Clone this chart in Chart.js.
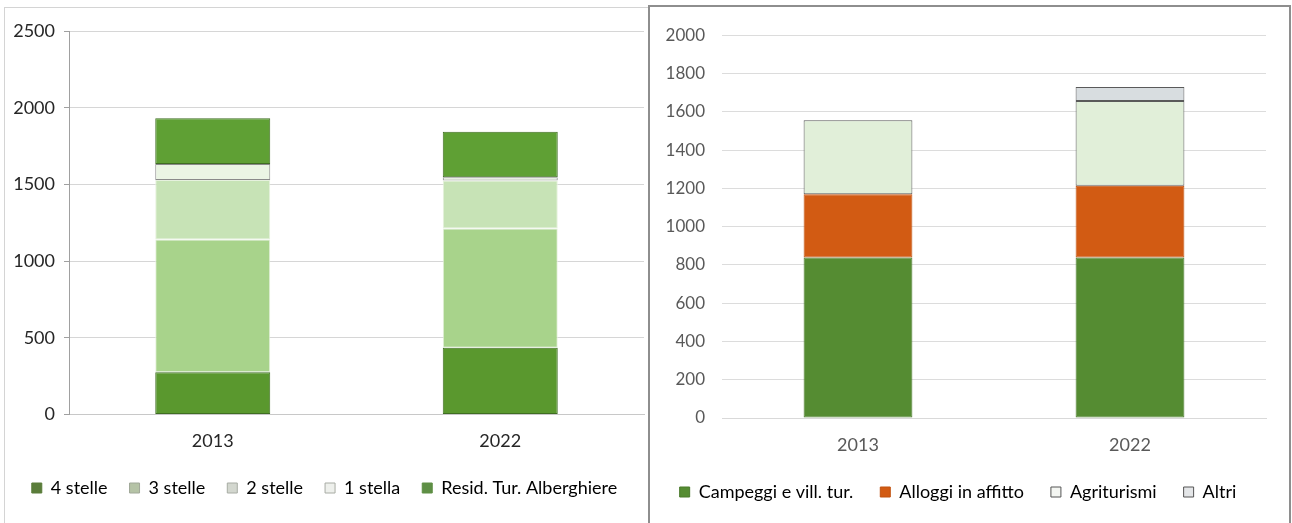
<!DOCTYPE html>
<html>
<head>
<meta charset="utf-8">
<script src="https://cdn.jsdelivr.net/npm/chart.js@4.4.1/dist/chart.umd.min.js"></script>
<style>
  html, body { margin: 0; padding: 0; background: #ffffff; width: 1292px; height: 523px; overflow: hidden; }
  .panel { position: absolute; box-sizing: border-box; background: #fff; }
  #pL { left: 4px; top: 7px; width: 646px; height: 520px; border: 1px solid #d4d4d4; border-right: none; }
  #pR { left: 648px; top: 5px; width: 643px; height: 522px; border: 2px solid #8e8e8e; }
  canvas { position: absolute; }
  #cL { left: 5px; top: 9px; }
  #cR { left: 650px; top: 8px; }
</style>
</head>
<body>
<div class="panel" id="pL"></div>
<div class="panel" id="pR"></div>
<canvas id="cL" width="642" height="513" style="width:642px;height:513px"></canvas>
<canvas id="cR" width="638" height="514" style="width:638px;height:514px"></canvas>
<script>
// ---- Left chart data ----
const yearsL = ['2013', '2022'];
const quattroStelle = [276, 435];
const treStelle = [864, 777];
const dueStelle = [388, 313];
const unaStella = [105, 21];
const residTurAlb = [298, 298];
const labelsL = ['4 stelle', '3 stelle', '2 stelle', '1 stella', 'Resid. Tur. Alberghiere'];
const ticksL = [0, 500, 1000, 1500, 2000, 2500];

// ---- Right chart data ----
const yearsR = ['2013', '2022'];
const campeggi = [838, 838];
const alloggi = [331, 376];
const agriturismi = [386, 442];
const altri = [0, 73];
const labelsR = ['Campeggi e vill. tur.', 'Alloggi in affitto', 'Agriturismi', 'Altri'];
const ticksR = [0, 200, 400, 600, 800, 1000, 1200, 1400, 1600, 1800, 2000];

const FONT = 'Lato, "Liberation Sans", sans-serif';

function legendGen(colors, borders) {
  return function(chart) {
    return chart.data.datasets.map((ds, i) => ({
      text: ds.label,
      fillStyle: colors[i],
      strokeStyle: borders[i],
      lineWidth: 1,
      hidden: false,
      datasetIndex: i
    }));
  };
}

new Chart(document.getElementById('cL'), {
  type: 'bar',
  data: {
    labels: yearsL,
    datasets: [
      { label: labelsL[0], data: quattroStelle, backgroundColor: '#5a982e', borderColor: '#3f6e22', borderWidth: 1 },
      { label: labelsL[1], data: treStelle, backgroundColor: '#a8d38b', borderColor: '#e6f1de', borderWidth: 1 },
      { label: labelsL[2], data: dueStelle, backgroundColor: '#c7e3b6', borderColor: '#e6f1de', borderWidth: 1 },
      { label: labelsL[3], data: unaStella, backgroundColor: '#ebf5e4', borderColor: '#8a8a8a', borderWidth: 1 },
      { label: labelsL[4], data: residTurAlb, backgroundColor: '#5fa034', borderColor: '#3f6e22', borderWidth: 1 }
    ]
  },
  options: {
    responsive: false,
    animation: false,
    layout: { padding: { left: 0, right: 3, top: 22, bottom: 15 } },
    datasets: { bar: { categoryPercentage: 1, barPercentage: 0.4, borderSkipped: false } },
    scales: {
      x: {
        stacked: true,
        grid: { display: false, drawTicks: false },
        border: { display: true, color: '#c8c8c8' },
        ticks: { color: '#262626', font: { family: FONT, size: 18 }, padding: 16 },
        afterFit: s => { s.height = 42.5; }
      },
      y: {
        stacked: true,
        min: 0, max: 2500,
        afterBuildTicks: s => { s.ticks = ticksL.map(v => ({ value: v })); },
        grid: { color: '#d6d6d6', tickLength: 5, tickColor: '#a0a0a0' },
        border: { display: true, color: '#a0a0a0' },
        ticks: { color: '#262626', font: { family: FONT, size: 18 }, padding: 9, callback: v => String(v) },
        afterFit: s => { s.width = 64; }
      }
    },
    plugins: {
      legend: {
        position: 'bottom',
        labels: {
          boxWidth: 10, boxHeight: 10, padding: 22,
          color: '#262626',
          font: { family: FONT, size: 18 },
          generateLabels: legendGen(['#5a7d3a', '#b5c3a6', '#d3d7cf', '#eef0ec', '#5e8f45'],
                                    ['#5a7d3a', '#a0a898', '#a8aca4', '#a8aca4', '#5e8f45'])
        }
      },
      tooltip: { enabled: false }
    }
  }
});

new Chart(document.getElementById('cR'), {
  type: 'bar',
  data: {
    labels: yearsR,
    datasets: [
      { label: labelsR[0], data: campeggi, backgroundColor: '#558c32', borderColor: '#4a7a2b', borderWidth: 1 },
      { label: labelsR[1], data: alloggi, backgroundColor: '#d25b13', borderColor: '#c05210', borderWidth: 1 },
      { label: labelsR[2], data: agriturismi, backgroundColor: '#e1efd9', borderColor: '#5a5a5a', borderWidth: 1 },
      { label: labelsR[3], data: altri, backgroundColor: '#d8dde0', borderColor: '#5a5a5a', borderWidth: 1 }
    ]
  },
  options: {
    responsive: false,
    animation: false,
    layout: { padding: { left: 0, right: 22, top: 27, bottom: 11 } },
    datasets: { bar: { categoryPercentage: 1, barPercentage: 0.4, borderSkipped: false } },
    scales: {
      x: {
        stacked: true,
        grid: { display: false, drawTicks: false },
        border: { display: true, color: '#d9d9d9' },
        ticks: { color: '#595959', font: { family: FONT, size: 18 }, padding: 16 },
        afterFit: s => { s.height = 38; }
      },
      y: {
        stacked: true,
        min: 0, max: 2000,
        afterBuildTicks: s => { s.ticks = ticksR.map(v => ({ value: v })); },
        grid: { color: '#dcdcdc', drawTicks: false },
        border: { display: false },
        ticks: { color: '#595959', font: { family: FONT, size: 17 }, padding: 17, callback: v => String(v) },
        afterFit: s => { s.width = 72; }
      }
    },
    plugins: {
      legend: {
        position: 'bottom',
        labels: {
          boxWidth: 10, boxHeight: 10, padding: 27,
          color: '#404040',
          font: { family: FONT, size: 18 },
          generateLabels: legendGen(['#558c32', '#d25b13', '#f4f6f2', '#e4e6e8'],
                                    ['#4a7a2b', '#c05210', '#555555', '#555555'])
        }
      },
      tooltip: { enabled: false }
    }
  }
});
</script>
</body>
</html>
